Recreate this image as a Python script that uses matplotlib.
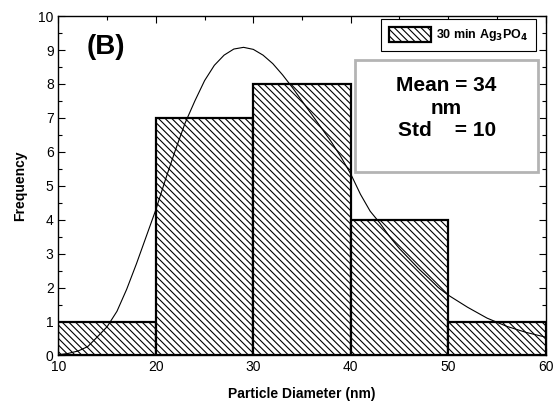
import numpy as np
import matplotlib.pyplot as plt
from matplotlib.ticker import MultipleLocator
from matplotlib.patches import Rectangle

plt.rcParams['font.family'] = ['Liberation Sans', 'DejaVu Sans']
plt.rcParams['hatch.linewidth'] = 0.8

# --- datos del histograma ---
bordes = [10, 20, 30, 40, 50, 60]
frecuencias = [1, 7, 8, 4, 1]

# --- curva de ajuste ---
curva_x = [10, 11, 12, 13, 14, 15, 16, 17, 18, 19, 20, 21, 22, 23, 24, 25,
           26, 27, 28, 29, 30, 31, 32, 33, 34, 35, 36, 37, 38, 39, 40, 41,
           42, 43, 44, 45, 46, 47, 48, 49, 50, 52, 54, 56, 58, 60]
curva_y = [0.02, 0.06, 0.13, 0.26, 0.55, 0.85, 1.3, 1.95, 2.7, 3.5, 4.3, 5.2,
           6.05, 6.85, 7.5, 8.1, 8.55, 8.85, 9.03, 9.08, 9.02, 8.85, 8.6,
           8.27, 7.9, 7.5, 7.1, 6.7, 6.3, 5.85, 5.35, 4.75, 4.25, 3.9, 3.5,
           3.15, 2.85, 2.55, 2.28, 2.0, 1.78, 1.42, 1.1, 0.86, 0.68, 0.54]

fig = plt.figure(figsize=(5.55, 4.03), dpi=100)
ax = fig.add_axes([0.1054, 0.118, 0.8775, 0.842])

anchos = np.diff(bordes)
ax.bar(bordes[:-1], frecuencias, width=anchos, align='edge',
       facecolor='white', edgecolor='black', linewidth=1.6,
       hatch='\\' * 5, label='30 min Ag$_\\mathbf{3}$PO$_\\mathbf{4}$', zorder=2)
ax.plot(curva_x, curva_y, color='black', linewidth=0.8, zorder=3)

ax.set_xlim(10, 60)
ax.set_ylim(0, 10)
ax.xaxis.set_major_locator(MultipleLocator(10))
ax.xaxis.set_minor_locator(MultipleLocator(5))
ax.yaxis.set_major_locator(MultipleLocator(1))
ax.yaxis.set_minor_locator(MultipleLocator(0.5))
ax.tick_params(which='both', direction='in', top=True, right=True,
               labelsize=10, width=0.8)
ax.tick_params(which='major', length=5)
ax.tick_params(which='minor', length=3)
for s in ax.spines.values():
    s.set_linewidth(1.0)

ax.set_xlabel('Particle Diameter (nm)', fontsize=10, fontweight='bold', labelpad=9)
ax.set_ylabel('Frequency', fontsize=10, fontweight='bold', labelpad=8)

ax.text(12.9, 9.1, '(B)', fontsize=20, fontweight='bold', va='center')

leg = ax.legend(loc='upper right', bbox_to_anchor=(0.9805, 0.991),
                prop={'size': 9, 'weight': 'bold'}, fancybox=False,
                edgecolor='black', handlelength=3.4, handleheight=1.45,
                borderpad=0.6, handletextpad=0.4, borderaxespad=0,
                framealpha=1)
leg.get_frame().set_linewidth(0.8)

# --- cuadro de estadisticos ---
caja = Rectangle((0.609, 0.540), 0.376, 0.330, transform=ax.transAxes,
                 facecolor='white', edgecolor='#b4b4b4', linewidth=2.0, zorder=5)
ax.add_patch(caja)
ax.text(0.797, 0.729, 'Mean = 34\nnm\nStd    = 10', transform=ax.transAxes,
        fontsize=15, fontweight='bold', ha='center', va='center',
        linespacing=1.25, zorder=6)

plt.savefig('out.png', dpi=100)
